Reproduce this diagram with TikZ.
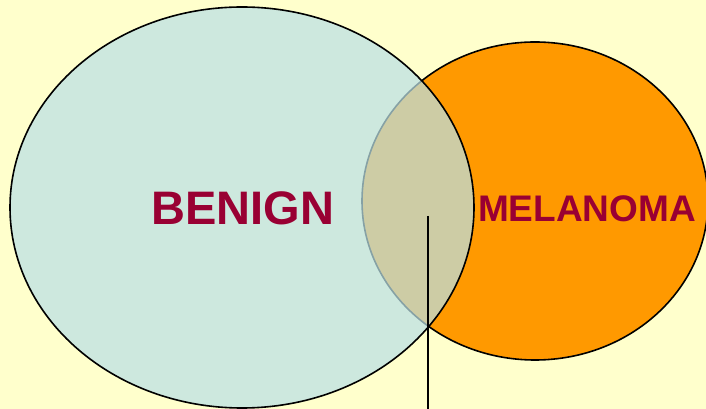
\documentclass[tikz,border=0pt]{standalone}
\usepackage{fontspec}
\setmainfont{Liberation Sans}
\usetikzlibrary{shapes.geometric}
\definecolor{bg}{RGB}{255,255,204}
\definecolor{teal}{RGB}{186,224,229}
\definecolor{orng}{RGB}{255,153,0}
\definecolor{wine}{RGB}{153,0,51}
\begin{document}
\begin{tikzpicture}[x=1pt,y=1pt,
  set/.style={ellipse,inner sep=0pt,outer sep=0pt,line width=1.6pt},
  lbl/.style={text=wine,font=\bfseries,inner sep=0pt}]
\fill[bg] (0,0) rectangle (706,409);
\useasboundingbox (0,0) rectangle (706,409);
\begin{scope}
\clip (0,0) rectangle (706,409);
\node[set,draw=black,fill=orng,minimum width=346pt,minimum height=318pt] (mel) at (535,208) {};
\fill[teal,fill opacity=0.72] (242,201.5) ellipse [x radius=232,y radius=200.5];
\node[set,draw=black,minimum width=464pt,minimum height=401pt] (ben) at (242,201.5) {};
\end{scope}
\node[lbl,font=\fontsize{47}{47}\selectfont\bfseries] (t1) at (243,200.5) {BENIGN};
\node[lbl,font=\fontsize{37}{37}\selectfont\bfseries] (t2) at (587,200.2) {MELANOMA};
\coordinate (ltop) at (428,193);
\coordinate (lbot) at (428,0);
\draw[line width=2.6pt] (ltop) -- (lbot);
\end{tikzpicture}
\end{document}
